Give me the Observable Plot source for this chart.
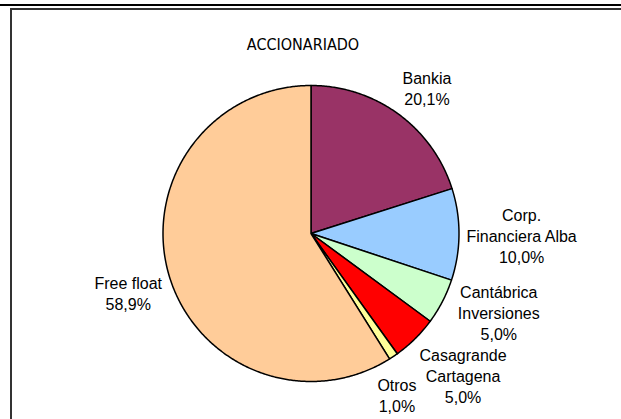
<!DOCTYPE html>
<html><head><meta charset="utf-8">
<script src="https://cdn.jsdelivr.net/npm/d3@7"></script>
<script src="https://cdn.jsdelivr.net/npm/@observablehq/plot@0.6"></script>
<style>
html,body{margin:0;padding:0;background:#fff;}
#wrap{position:relative;width:621px;height:419px;overflow:hidden;background:#fff;}
#topline{position:absolute;left:0;top:4px;width:621px;height:2px;background:#000;}
#frame{position:absolute;left:10px;top:8px;width:640px;height:440px;border-top:2px solid #333;border-left:2px solid #333;}
#chart{position:absolute;left:0;top:0;}
#title{position:absolute;left:0;top:35px;width:606px;text-align:center;font:16px "DejaVu Sans Condensed","DejaVu Sans",sans-serif;font-stretch:condensed;line-height:20px;color:#000;}
</style></head><body>
<div id="wrap"><div id="topline"></div><div id="frame"></div><div id="title"></div><div id="chart"></div></div>
<script>
// ---- data ----
const title = "ACCIONARIADO";
const categories = ["Bankia", "Corp. Financiera Alba", "Cantábrica Inversiones", "Casagrande Cartagena", "Otros", "Free float"];
const labelLines = [["Bankia"], ["Corp.", "Financiera Alba"], ["Cantábrica", "Inversiones"], ["Casagrande", "Cartagena"], ["Otros"], ["Free float"]];
const values = [20.1, 10.0, 5.0, 5.0, 1.0, 58.9];
const colors = ["#993366", "#99CCFF", "#CCFFCC", "#FF0000", "#FFFF99", "#FFCC99"];

// ---- layout ----
const W = 621, H = 419, cx = 310.5, cy = 233, R = 148;
const FONT = 16, LINE = 21, GAP = 7;
document.getElementById("title").textContent = title;

const fmt = v => v.toFixed(1).replace(".", ",") + "%";
const arcs = d3.pie().sort(null).value(d => d.value)(categories.map((name, i) => ({name, value: values[i], i})));

// slice polygons
const polys = [];
for (const a of arcs) {
  const name = a.data.name;
  polys.push({name, x: cx, y: cy});
  const n = Math.max(2, Math.ceil((a.endAngle - a.startAngle) / (Math.PI / 360)));
  for (let k = 0; k <= n; k++) {
    const t = a.startAngle + (a.endAngle - a.startAngle) * k / n;
    polys.push({name, x: cx + R * Math.sin(t), y: cy - R * Math.cos(t)});
  }
  polys.push({name, x: cx, y: cy});
}

// label placement (outside end, nearest box point on the slice mid-angle)
const ctx = document.createElement("canvas").getContext("2d");
ctx.font = `${FONT}px "Liberation Sans", Arial, sans-serif`;
const clamp = v => Math.max(-1, Math.min(1, v));
const labs = arcs.map(a => {
  const lines = [...labelLines[a.data.i], fmt(a.data.value)];
  const w = Math.max(...lines.map(s => ctx.measureText(s).width));
  const h = lines.length * LINE;
  return {name: a.data.name, text: lines.join("\n"), w, h, ang: (a.startAngle + a.endAngle) / 2};
});
function pos(l) {
  const ux = Math.sin(l.ang), uy = -Math.cos(l.ang);
  l.x = cx + (R + GAP) * ux + l.w / 2 * clamp(ux / 0.35);
  l.y = cy + (R + GAP) * uy + l.h / 2 * clamp(uy / 0.35);
}
const overlap = (a, b) => Math.abs(a.x - b.x) < (a.w + b.w) / 2 + 2 && Math.abs(a.y - b.y) < (a.h + b.h) / 2;
labs.forEach(pos);
for (let it = 0; it < 400; it++) {
  let moved = false;
  for (let i = 0; i < labs.length - 1; i++) {
    const a = labs[i], b = labs[i + 1];
    if (overlap(a, b)) { a.ang -= 0.004; b.ang += 0.004; pos(a); pos(b); moved = true; }
  }
  if (!moved) break;
}

const chart = Plot.plot({
  width: W, height: H, margin: 0,
  x: {domain: [0, W], range: [0, W], axis: null},
  y: {domain: [0, H], range: [0, H], axis: null},
  color: {domain: categories, range: colors},
  style: {background: "transparent", overflow: "visible"},
  marks: [
    Plot.line(polys, {x: "x", y: "y", z: "name", fill: "name", stroke: "#000", strokeWidth: 1.5, strokeLinejoin: "round", curve: "linear"}),
    Plot.text(labs, {x: "x", y: "y", text: "text", fontSize: FONT, lineHeight: LINE / FONT, lineAnchor: "middle", textAnchor: "middle", fill: "#000", fontFamily: '"Liberation Sans", Arial, sans-serif'})
  ]
});
document.getElementById("chart").appendChild(chart);
</script>
</body></html>
